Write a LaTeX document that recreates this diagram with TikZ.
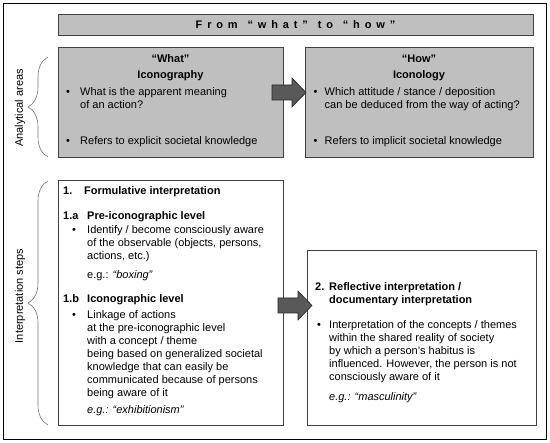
\documentclass[tikz,border=0pt]{standalone}
\usepackage{fontspec}
\setmainfont{Liberation Sans}
\newfontfamily\spacedfont[LetterSpace=44]{Liberation Sans}
\usetikzlibrary{decorations.pathreplacing}
\def\blockarrow(#1,#2){\draw[arrowfill] (#1,#2-7.5) -- (#1+20,#2-7.5) -- (#1+20,#2-14.5) -- (#1+34,#2) -- (#1+20,#2+14.5) -- (#1+20,#2+7.5) -- (#1,#2+7.5) -- cycle;}
\newcommand{\textlines}[1]{\begin{tabular}[t]{@{}l@{}}#1\end{tabular}}
\tikzset{
	graybox/.style={draw=black!75, fill=black!25, line width=0.7pt},
	whitebox/.style={draw=black!75, fill=white, line width=0.7pt},
	arrowfill/.style={draw=black!85, fill=black!65, line width=0.6pt},
	bracket/.style={draw=black!55, line width=0.6pt, decorate, decoration={brace, amplitude=20pt}},
	txt/.style={inner sep=0pt, anchor=base west, font=\fontsize{11}{13}\selectfont},
	head/.style={txt, font=\fontsize{11}{13}\selectfont\bfseries},
}

\begin{document}
\begin{tikzpicture}[x=1pt, y=-1pt]
		%%%%% START %%%%%
		
		\useasboundingbox (0,0) rectangle (550,443);
		\draw[line width=0.8pt] (3,3) rectangle (546,439);
		
		\draw[graybox] (58,14) rectangle (533,35.5);
		\node[inner sep=0pt, anchor=base, font=\spacedfont\fontsize{11}{13}\selectfont\bfseries] (title) at (295.5,29) {From\hspace{2pt} “what”\hspace{2pt} to\hspace{2pt} “how”};
		
		% analytical areas
		\draw[graybox] (58,47) rectangle (283,157);
		\draw[graybox] (305,47) rectangle (533,157);
		\blockarrow(272,92.5);
		
		\node[head, anchor=base] (whatq) at (170.5,63) {“What”};
		\node[head, anchor=base] (whatname) at (170.5,78.5) {Iconography};
		\node[txt] (whatdot1) at (66,96) {•};
		\node[txt] (whattxt1) at (80,96) {\textlines{What is the apparent meaning\\of an action?}};
		\node[txt] (whatdot2) at (66,145) {•};
		\node[txt] (whattxt2) at (80,145) {Refers to explicit societal knowledge};
		
		\node[head, anchor=base] (howq) at (419,63) {“How”};
		\node[head, anchor=base] (howname) at (419,78.5) {Iconology};
		\node[txt] (howdot1) at (313.5,96) {•};
		\node[txt] (howtxt1) at (324.5,96) {\textlines{Which attitude / stance / deposition\\can be deduced from the way of acting?}};
		\node[txt] (howdot2) at (313.5,145) {•};
		\node[txt] (howtxt2) at (324.5,145) {Refers to implicit societal knowledge};
		
		% interpretation steps
		\draw[whitebox] (58,180.5) rectangle (283,425.5);
		\draw[whitebox] (307,250) rectangle (536,425.5);
		\blockarrow(278,305.5);
		
		\node[head] (formnum) at (63,195) {1.};
		\node[head] (formtxt) at (84,195) {Formulative interpretation};
		\node[head] (prenum) at (63,220) {1.a};
		\node[head] (pretxt) at (87,220) {Pre-iconographic level};
		\node[txt] (predot) at (72,234) {•};
		\node[txt] (prebody) at (87,234) {\textlines{Identify / become consciously aware\\of the observable (objects, persons,\\actions, etc.)}};
		\node[txt] (preex) at (87,279) {e.g.: \textit{“boxing”}};
		
		\node[head] (iconum) at (63,303) {1.b};
		\node[head] (icotxt) at (87,303) {Iconographic level};
		\node[txt] (icodot) at (72,319) {•};
		\node[txt] (icobody) at (87,319) {\textlines{Linkage of actions\\at the pre-iconographic level\\with a concept / theme\\being based on generalized societal\\knowledge that can easily be\\communicated because of persons\\being aware of it}};
		\node[txt] (icoex) at (87,414) {\textit{e.g.: “exhibitionism”}};
		
		\node[head] (reflnum) at (315,291) {2.};
		\node[head] (refltxt) at (329,291) {\textlines{Reflective interpretation /\\documentary interpretation}};
		\node[txt] (refldot) at (317,329) {•};
		\node[txt] (reflbody) at (329,329) {\textlines{Interpretation of the concepts / themes\\within the shared reality of society\\by which a person’s habitus is\\influenced. However, the person is not\\consciously aware of it}};
		\node[txt] (reflex) at (329,401) {\textit{e.g.: “masculinity”}};
		
		% side braces
		\draw[bracket] (48,157) -- (48,57);
		\draw[bracket] (48,425) -- (48,181);
		\node[rotate=90, inner sep=0pt, font=\fontsize{11}{13}\selectfont] (arealabel) at (20,108) {Analytical areas};
		\node[rotate=90, inner sep=0pt, font=\fontsize{11}{13}\selectfont] (steplabel) at (20,296) {Interpretation steps};
		
		%%%%% END %%%%%
	\end{tikzpicture}
\end{document}
